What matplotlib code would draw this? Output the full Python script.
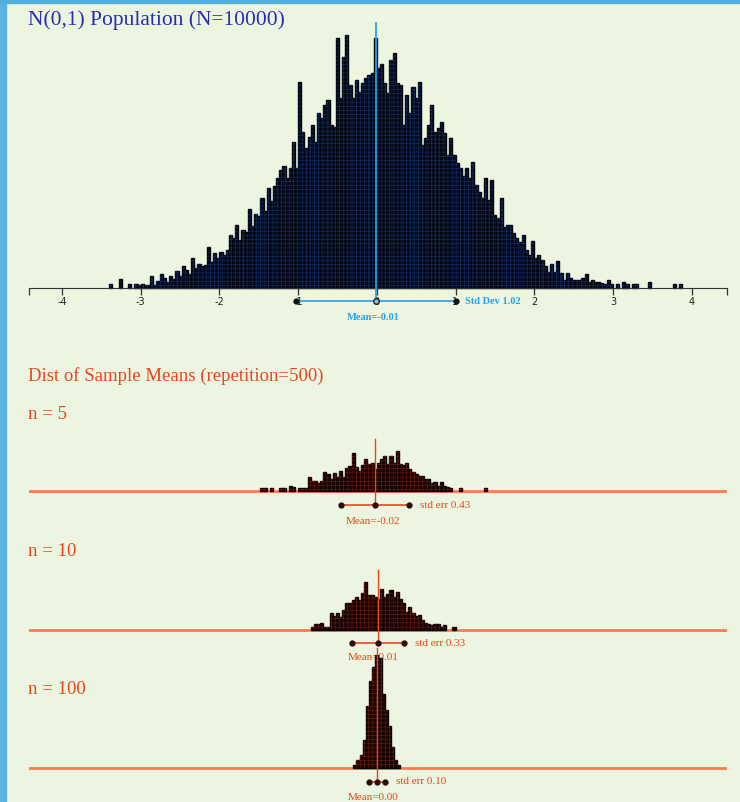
import numpy as np
import matplotlib.pyplot as plt
from matplotlib.patches import Rectangle

W, H = 740, 802
X_LEFT, X_RIGHT = -4.42, 4.45
BIN = 0.04

# population histogram, bins of width 0.04 starting at pop_start
pop_start = -3.44
pop_counts = [
    0, 4, 0, 0, 9, 0, 0, 4, 0, 4, 3, 4, 3, 3, 12, 3, 7, 14, 10, 6,
    12, 9, 17, 12, 22, 18, 14, 30, 20, 24, 22, 23, 41, 26, 35, 30, 36, 33, 38, 53,
    50, 63, 48, 58, 56, 79, 62, 74, 72, 90, 77, 100, 87, 102, 110, 118, 122, 110, 120, 146,
    120, 206, 156, 140, 151, 163, 146, 175, 170, 183, 188, 163, 161, 250, 190, 231, 253, 203, 190, 208,
    196, 205, 210, 213, 215, 250, 220, 224, 205, 195, 228, 235, 205, 203, 163, 193, 175, 201, 190, 206,
    143, 150, 163, 183, 156, 160, 166, 155, 133, 150, 133, 125, 120, 112, 120, 110, 126, 103, 96, 90,
    110, 88, 108, 73, 70, 90, 61, 63, 63, 55, 50, 46, 53, 38, 33, 47, 30, 33, 28, 22,
    16, 24, 16, 27, 15, 8, 15, 10, 8, 8, 8, 10, 14, 6, 8, 6, 6, 5, 4, 8,
    4, 0, 4, 0, 6, 4, 0, 4, 4, 0, 0, 0, 6, 0, 0, 0, 0, 0, 0, 0,
    4, 0, 4, 0,
]
pop_mean, pop_sd = -0.01, 1.02

# sample means, 500 repetitions each
n5_start = -1.48
n5_counts = [
    3, 3, 0, 3, 0, 0, 3, 3, 0, 5, 4, 0, 3, 3, 3, 14, 10, 10, 8, 10,
    19, 17, 12, 18, 14, 20, 14, 23, 25, 38, 24, 20, 26, 32, 27, 28, 22, 28, 32, 35,
    27, 35, 28, 40, 27, 26, 28, 22, 19, 17, 15, 15, 12, 12, 8, 9, 5, 9, 5, 4,
    3, 0, 0, 3, 0, 0, 0, 0, 0, 0, 0, 3,
]
n5_mean, n5_se = -0.02, 0.43

n10_start = -0.84
n10_counts = [
    3, 6, 6, 7, 3, 3, 17, 14, 17, 13, 20, 27, 27, 30, 33, 30, 37, 48, 35, 35,
    33, 31, 41, 33, 36, 40, 33, 38, 31, 27, 18, 23, 17, 14, 15, 10, 7, 6, 5, 6,
    6, 3, 5, 0, 0, 3,
]
n10_mean, n10_se = 0.01, 0.33

n100_start = -0.30
n100_counts = [3, 8, 13, 28, 62, 87, 101, 113, 110, 74, 58, 42, 21, 8, 3]
n100_mean, n100_se = 0.00, 0.10

BG = "#ecf5df"
BLUE = "#2a9ee8"
RED = "#e8461f"
SERIF = "Liberation Serif"

plt.rcParams["hatch.linewidth"] = 0.3


def px_axes(fig, left, top, right, bottom, base):
    ax = fig.add_axes([left / W, 1 - bottom / H, (right - left) / W, (bottom - top) / H])
    ax.set_xlim(X_LEFT, X_RIGHT)
    ax.set_ylim(-(bottom - base), base - top)
    ax.patch.set_visible(False)
    for s in ax.spines.values():
        s.set_visible(False)
    ax.set_yticks([])
    return ax


def draw_bars(ax, start, counts, face, edge, dots):
    counts = np.asarray(counts)
    centers = start + BIN * (np.arange(len(counts)) + 0.5)
    keep = counts > 0
    ax.bar(centers[keep], counts[keep], width=BIN, color=face,
           edgecolor=edge, linewidth=1.0, zorder=2)
    ax.bar(centers[keep], counts[keep], width=BIN, fill=False,
           hatch="++++", edgecolor=dots, linewidth=0, zorder=3)


fig = plt.figure(figsize=(W / 100, H / 100), dpi=100, facecolor=BG)
fig.patches.append(Rectangle((0, 0), 6 / W, 1, transform=fig.transFigure,
                             color="#5ab3e0", zorder=0))
fig.patches.append(Rectangle((0, 1 - 3 / H), 1, 3 / H, transform=fig.transFigure,
                             color="#4faee0", zorder=0))

# population panel
ax = px_axes(fig, 29, 20, 727, 325, 288)
draw_bars(ax, pop_start, pop_counts, "#071024", "#020308", "#163a86")
ax.spines["bottom"].set_visible(True)
ax.spines["bottom"].set_position(("data", 0))
ax.spines["bottom"].set_color("#333333")
ax.set_xticks(range(-4, 5))
ax.set_xticklabels([str(t) for t in range(-4, 5)])
ax.set_xticks([X_LEFT, X_RIGHT], minor=True)
ax.tick_params(axis="x", which="both", direction="out", length=5, width=0.9,
               color="#333333", labelsize=7, pad=1.5, labelcolor="#222222")
ax.plot([pop_mean, pop_mean], [-14, 265], color=BLUE, lw=1.3, zorder=4)
ax.plot([pop_mean - pop_sd, pop_mean + pop_sd], [-13, -13], color=BLUE, lw=1.2, zorder=4)
ax.plot([pop_mean - pop_sd, pop_mean + pop_sd], [-13, -13], "o", ms=3.5,
        color="#111111", zorder=5)
ax.plot([pop_mean], [-13], "o", ms=4, mfc="#7cc4f0", mec="#222222", zorder=5)
ax.text(pop_mean + pop_sd + 0.11, -14, f"Std Dev {pop_sd:.2f}", fontsize=7.5,
        fontweight="bold", color="#26a2f2", va="center", family=SERIF)
ax.text(-0.05, -29, f"Mean={pop_mean:.2f}", fontsize=7.5, fontweight="bold",
        color="#26a2f2", va="center", ha="center", family=SERIF)

fig.text(28 / W, 1 - 20 / H, "N(0,1) Population (N=10000)", fontsize=15.5,
         color="#2b2bb5", va="center", family=SERIF)
fig.text(28 / W, 1 - 376 / H, "Dist of Sample Means (repetition=500)", fontsize=13.5,
         color=RED, va="center", family=SERIF)

# sample mean panels: (n, start, counts, mean, se, base, top, bottom,
#                      line top, err bar y, mean label y, n label y)
panels = [
    (5, n5_start, n5_counts, n5_mean, n5_se, 491, 430, 530, 439, 505, 521, 414),
    (10, n10_start, n10_counts, n10_mean, n10_se, 630, 560, 665, 570, 643, 657, 551),
    (100, n100_start, n100_counts, n100_mean, n100_se, 768, 640, 800, 648, 782, 797, 689),
]
for n, start, counts, m, se, base, top, bottom, ltop, ey, my, ny in panels:
    ax = px_axes(fig, 29, top, 727, bottom, base)
    ax.set_xticks([])
    draw_bars(ax, start, counts, "#200503", "#0c0201", "#8a2210")
    ax.axhline(0, color="#ff7b4f", lw=2, zorder=1)
    ax.plot([m, m], [base - ey, base - ltop], color=RED, lw=1, zorder=4)
    ax.plot([m - se, m + se], [base - ey] * 2, color=RED, lw=1.2, zorder=4)
    ax.plot([m - se, m, m + se], [base - ey] * 3, "o", ms=3.5, color="#2a0a04", zorder=5)
    ax.text(m + se + 0.14, base - ey, f"std err {se:.2f}", fontsize=8, color=RED,
            va="center", family=SERIF)
    ax.text(-0.05, base - my, f"Mean={m:.2f}", fontsize=8, color=RED,
            va="center", ha="center", family=SERIF)
    fig.text(28 / W, 1 - ny / H, f"n = {n}", fontsize=13.5, color=RED,
             va="center", family=SERIF)

fig.savefig("out.png", dpi=100, facecolor=BG)
